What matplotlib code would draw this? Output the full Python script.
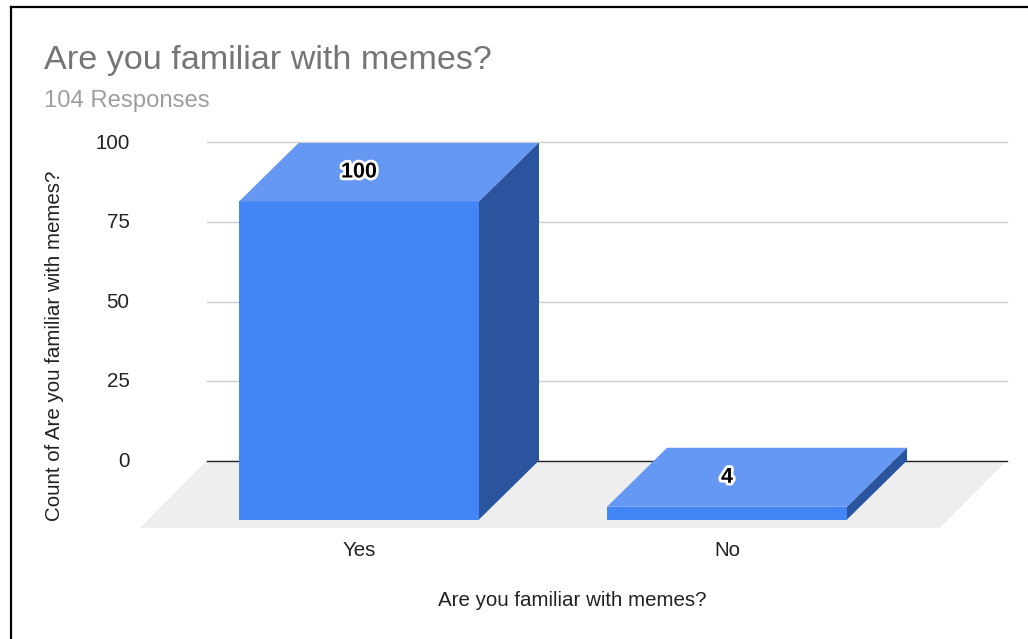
import matplotlib
matplotlib.use("Agg")
import matplotlib.pyplot as plt
import matplotlib.patheffects as pe
from matplotlib.lines import Line2D
from matplotlib.patches import Polygon
from matplotlib.transforms import ScaledTranslation

categories = ["Yes", "No"]
counts = [100, 4]
y_ticks = [0, 25, 50, 75, 100]

FRONT = "#4285f4"
TOP = "#6498f3"
SIDE = "#2b549f"
W, H = 1028, 639

plt.rcParams["font.family"] = ["Liberation Sans", "DejaVu Sans"]

fig = plt.figure(figsize=(W / 100, H / 100), dpi=100, facecolor="white")

# axes box in pixels, y grows downward here
left, right, top, bottom = 140, 1007, 142.5, 528
ax = fig.add_axes([left / W, 1 - bottom / H, (right - left) / W, (bottom - top) / H])

px_y = 3.18   # pixels per count
px_x = 368    # pixels per category
ax.set_ylim(-(bottom - 460.5) / px_y, 100)
ax.set_xlim((left - 359) / px_x, (right - 359) / px_x)

bar_w = 240 / px_x
dx = 60 / px_x   # fake 3D depth
dy = 59 / px_y
grid_x0 = (207 - 359) / px_x
grid_x1 = (right - 359) / px_x
floor_x0 = (left - 359) / px_x
floor_x1 = (940 - 359) / px_x
floor_y0 = -(bottom - 460.5) / px_y

# floor of the box
ax.add_patch(Polygon([(floor_x0, floor_y0), (floor_x1, floor_y0), (grid_x1, 0), (grid_x0, 0)],
                     closed=True, fc="#eeeeee", ec="none", zorder=1))

for t in y_ticks:
    if t == 0:
        ax.plot([grid_x0, grid_x1], [t, t], color="#222222", lw=1.0, zorder=2, clip_on=False)
    else:
        ax.plot([grid_x0, grid_x1], [t, t], color="#cccccc", lw=1.0, zorder=2, clip_on=False)

for i, (name, val) in enumerate(zip(categories, counts)):
    x0 = i - bar_w / 2
    x1 = i + bar_w / 2
    y0 = -dy
    y1 = val - dy
    ax.add_patch(Polygon([(x0, y0), (x1, y0), (x1, y1), (x0, y1)], fc=FRONT, ec="none", zorder=3))
    ax.add_patch(Polygon([(x0, y1), (x1, y1), (x1 + dx, val), (x0 + dx, val)], fc=TOP, ec="none", zorder=3))
    ax.add_patch(Polygon([(x1, y0), (x1 + dx, 0), (x1 + dx, val), (x1, y1)], fc=SIDE, ec="none", zorder=3))
    ax.text(i, val - dy / 2, str(val), ha="center", va="center", fontsize=15.5, fontweight="bold",
            color="black", zorder=5,
            path_effects=[pe.withStroke(linewidth=4, foreground="white")])

ax.set_xticks(range(len(categories)), categories)
ax.set_yticks(y_ticks)
ax.tick_params(axis="both", length=0, labelsize=14.8, labelcolor="#222222")
ax.tick_params(axis="y", pad=7.5)
ax.tick_params(axis="x", pad=9)
ax.patch.set_alpha(0)
for s in ax.spines.values():
    s.set_visible(False)

# nudge the y tick labels up a little
for lab in ax.get_yticklabels():
    lab.set_transform(lab.get_transform() + ScaledTranslation(0, 1.2 / 100, fig.dpi_scale_trans))

fig.text(44 / W, 1 - 60 / H, "Are you familiar with memes?", fontsize=24.6, color="#757575", va="center")
fig.text(44 / W, 1 - 101 / H, "104 Responses", fontsize=17.2, color="#9e9e9e", va="center")
fig.text(572 / W, 1 - 601 / H, "Are you familiar with memes?", fontsize=14.8, color="#222222",
         ha="center", va="center")
fig.text(55 / W, 1 - 346 / H, "Count of Are you familiar with memes?", fontsize=14.8, color="#222222",
         rotation=90, ha="center", va="center")

# black frame, top and left edges only
fig.add_artist(Line2D([11 / W, 11 / W], [0, 1 - 7 / H], color="black", lw=1.6))
fig.add_artist(Line2D([11 / W, 1], [1 - 7 / H, 1 - 7 / H], color="black", lw=1.6))

fig.savefig("out.png", dpi=100)
